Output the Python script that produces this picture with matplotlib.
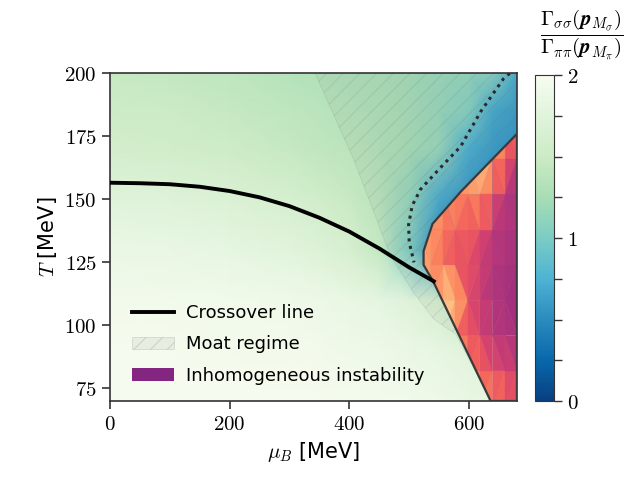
import numpy as np
import matplotlib
matplotlib.use("Agg")
import matplotlib.pyplot as plt
import matplotlib.tri as mtri
from matplotlib.patches import Polygon, Patch
from matplotlib.lines import Line2D
from matplotlib.ticker import FuncFormatter

plt.rcParams['mathtext.fontset'] = 'cm'
plt.rcParams['font.family'] = ['DejaVu Sans']
plt.rcParams['hatch.linewidth'] = 0.8

# ratio Gamma_ss / Gamma_pp on a coarse (T, mu_B) grid
mu_grid = [0, 100, 200, 300, 350, 400, 450, 500, 550, 600, 640, 680]
T_grid = [70, 90, 110, 130, 150, 170, 185, 200]
ratio = [
    [1.98, 1.98, 1.98, 1.97, 1.97, 1.96, 1.95, 1.93, 1.90, 1.85, 1.82, 1.80],
    [1.97, 1.97, 1.96, 1.95, 1.94, 1.92, 1.90, 1.87, 1.82, 1.75, 1.72, 1.70],
    [1.94, 1.94, 1.93, 1.91, 1.89, 1.85, 1.80, 1.72, 1.60, 1.40, 1.30, 1.20],
    [1.86, 1.85, 1.82, 1.76, 1.71, 1.62, 1.45, 1.02, 0.50, 0.50, 0.50, 0.50],
    [1.74, 1.72, 1.68, 1.61, 1.55, 1.47, 1.36, 1.14, 0.70, 0.55, 0.50, 0.50],
    [1.58, 1.56, 1.52, 1.46, 1.42, 1.38, 1.32, 1.24, 1.15, 0.72, 0.60, 0.55],
    [1.52, 1.50, 1.46, 1.40, 1.37, 1.33, 1.29, 1.23, 1.15, 1.04, 0.68, 0.60],
    [1.46, 1.44, 1.40, 1.35, 1.32, 1.29, 1.26, 1.22, 1.17, 1.12, 1.06, 0.70],
]

# crossover line
cross_mu = [0, 50, 100, 150, 200, 250, 300, 350, 400, 450, 500, 541]
cross_T = [156.6, 156.4, 156.0, 155.0, 153.3, 150.8, 147.3, 142.7, 137.2, 130.5, 123.0, 117.5]

# ratio = 1 contour (dotted)
dot_mu = [668, 658, 620, 586, 550, 519, 505, 499, 500, 508]
dot_T = [200, 198, 185, 171, 162, 154, 147.5, 140, 133, 125]

# moat regime boundary
moat_mu = [343, 407, 469, 507, 541, 578, 636, 680, 680]
moat_T = [200, 166, 127.5, 113.2, 102.5, 96.5, 70, 70, 200]

# inhomogeneous instability boundary
inh_mu = [680, 586, 539, 524, 524, 541, 636, 680]
inh_T = [176, 153, 140.3, 129.5, 124, 117, 70, 70]

# instability strength inside the region (magma scale), coarse grid
inh_grid_mu = [515, 536, 557, 577, 598, 618, 639, 660, 680]
inh_grid_T = [68, 82, 96, 110, 124, 138, 152, 166, 180]
inh_val = [
    [0.78, 0.78, 0.78, 0.78, 0.76, 0.74, 0.75, 0.68, 0.62],
    [0.78, 0.78, 0.78, 0.78, 0.74, 0.68, 0.62, 0.58, 0.56],
    [0.78, 0.78, 0.80, 0.72, 0.64, 0.58, 0.52, 0.49, 0.47],
    [0.80, 0.80, 0.84, 0.95, 0.63, 0.54, 0.49, 0.46, 0.45],
    [0.80, 0.78, 0.70, 0.66, 0.61, 0.57, 0.50, 0.47, 0.46],
    [0.80, 0.76, 0.72, 0.63, 0.70, 0.59, 0.52, 0.49, 0.46],
    [0.80, 0.80, 0.78, 0.80, 0.72, 0.84, 0.61, 0.52, 0.47],
    [0.80, 0.80, 0.80, 0.80, 0.82, 0.78, 0.84, 0.66, 0.53],
    [0.80, 0.80, 0.80, 0.80, 0.80, 0.78, 0.76, 0.72, 0.70],
]

fig = plt.figure(figsize=(6.39, 4.84), dpi=100)
ax = fig.add_axes([0.172, 0.1715, 0.637, 0.677])
cax = fig.add_axes([0.837, 0.1715, 0.030, 0.673])

M, TT = np.meshgrid(mu_grid, T_grid)
pc = ax.pcolormesh(M, TT, np.array(ratio), cmap='GnBu_r', vmin=0, vmax=2,
                   shading='gouraud', zorder=1, rasterized=True)

# moat regime
moat = Polygon(np.column_stack([moat_mu, moat_T]), closed=True,
               facecolor=(0.45, 0.45, 0.45, 0.07), edgecolor=(0.45, 0.45, 0.45, 0.16),
               hatch='//', linewidth=0.6, zorder=2)
ax.add_patch(moat)

# inhomogeneous region
IM, IT = np.meshgrid(inh_grid_mu, inh_grid_T)
tri = mtri.Triangulation(IM.ravel(), IT.ravel())
tp = ax.tripcolor(tri, np.array(inh_val).ravel(), cmap='magma', vmin=0, vmax=1,
                  shading='flat', zorder=3, edgecolors='face', linewidth=0.3)
inh = Polygon(np.column_stack([inh_mu, inh_T]), closed=True,
              facecolor='none', edgecolor='#3a3a3a', linewidth=1.6, zorder=4)
ax.add_patch(inh)
tp.set_clip_path(inh)

ax.plot(dot_mu, dot_T, ls=(0, (1, 1.5)), color='#2a2a2a', lw=2.2, zorder=5)
ax.plot(cross_mu, cross_T, color='black', lw=2.8, zorder=6)

ax.set_xlim(0, 680)
ax.set_ylim(70, 200)
ax.set_xticks([0, 200, 400, 600])
ax.set_yticks([75, 100, 125, 150, 175, 200])
fmt = FuncFormatter(lambda v, p: r'$%d$' % v)
ax.xaxis.set_major_formatter(fmt)
ax.yaxis.set_major_formatter(fmt)
ax.tick_params(labelsize=15, length=6, width=1.2, color='#333333')
for s in ax.spines.values():
    s.set_color('#333333')
    s.set_linewidth(1.2)
ax.set_xlabel(r'$\mu_B$ [MeV]', fontsize=15)
ax.set_ylabel(r'$T$ [MeV]', fontsize=15)

handles = [
    Line2D([], [], color='black', lw=2.8),
    Patch(facecolor=(0.45, 0.45, 0.45, 0.10), edgecolor=(0.45, 0.45, 0.45, 0.22),
          hatch='//', linewidth=0.6),
    Patch(facecolor=plt.get_cmap('magma')(0.38)),
]
ax.legend(handles, ['Crossover line', 'Moat regime', 'Inhomogeneous instability'],
          loc='lower left', bbox_to_anchor=(0.01, -0.006), frameon=False,
          fontsize=13, handlelength=2.3, borderaxespad=0.6, labelspacing=0.75,
          handletextpad=0.7)

cb = fig.colorbar(pc, cax=cax)
cb.set_ticks([0, 0.25, 0.5, 0.75, 1, 1.25, 1.5, 1.75, 2])
cb.set_ticklabels([r'$0$', '', '', '', r'$1$', '', '', '', r'$2$'])
cb.ax.tick_params(labelsize=15, length=6, width=1.0, color='#333333')
cb.outline.set_edgecolor('#333333')
fig.text(0.911, 0.926,
         r'$\dfrac{\Gamma_{\sigma\sigma}(\mathbfit{p}_{M_\sigma})}{\Gamma_{\pi\pi}(\mathbfit{p}_{M_\pi})}$',
         fontsize=15, ha='center', va='center')

fig.savefig('out.png', dpi=100)
